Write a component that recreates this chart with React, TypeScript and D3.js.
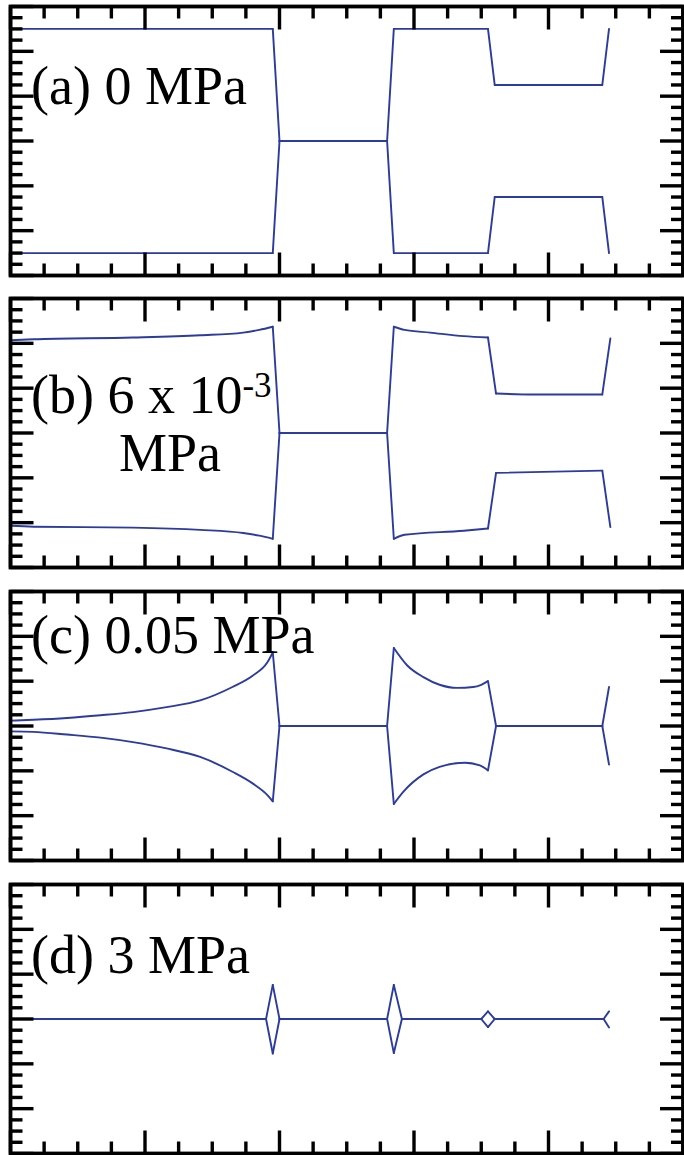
import React from "react";
import * as d3 from "d3";

type Pt = [number, number];

const panelLabels = ["(a) 0 MPa", "(b) 6 x 10", "(c) 0.05 MPa", "(d) 3 MPa"];
const labelB2 = "MPa";
const labelBSup = "-3";

const aUpper: Pt[] = [[0, 5.5], [1.95, 5.5], [2.0, 3], [2.8, 3], [2.85, 5.5], [3.55, 5.5], [3.6, 4.25], [4.4, 4.25], [4.45, 5.5]];
const aLower: Pt[] = [[0, 0.5], [1.95, 0.5], [2.0, 3], [2.8, 3], [2.85, 0.5], [3.55, 0.5], [3.6, 1.75], [4.4, 1.75], [4.45, 0.5]];

const bUpper: Pt[] = [[0, 5.07], [0.17, 5.09], [0.91, 5.13], [1.41, 5.18], [1.73, 5.24], [1.85, 5.3], [1.95, 5.37], [2.0, 3], [2.8, 3], [2.85, 5.37], [2.93, 5.3], [3.12, 5.24], [3.37, 5.16], [3.55, 5.13], [3.61, 3.88], [3.89, 3.86], [4.4, 3.86], [4.46, 5.11]];
const bLower: Pt[] = [[0, 0.93], [0.17, 0.91], [0.91, 0.89], [1.41, 0.84], [1.73, 0.77], [1.85, 0.71], [1.95, 0.64], [2.0, 3], [2.8, 3], [2.85, 0.64], [2.93, 0.73], [3.37, 0.82], [3.55, 0.87], [3.61, 2.11], [4.4, 2.16], [4.46, 0.9]];

const cUpper: Pt[] = [[0, 3.12], [0.17, 3.14], [0.42, 3.18], [0.67, 3.24], [0.91, 3.31], [1.16, 3.42], [1.41, 3.57], [1.65, 3.87], [1.8, 4.12], [1.91, 4.42], [1.95, 4.64], [2.0, 3], [2.8, 3], [2.85, 4.74], [2.95, 4.35], [3.07, 4.09], [3.19, 3.92], [3.32, 3.85], [3.44, 3.87], [3.5, 3.92], [3.55, 4.0], [3.61, 3], [4.4, 3], [4.45, 3.87]];
const cLower: Pt[] = [[0, 2.88], [0.17, 2.87], [0.42, 2.81], [0.67, 2.74], [0.91, 2.64], [1.16, 2.5], [1.41, 2.31], [1.65, 1.98], [1.8, 1.72], [1.91, 1.46], [1.95, 1.32], [2.0, 3], [2.8, 3], [2.85, 1.26], [2.92, 1.53], [3.07, 1.92], [3.19, 2.09], [3.38, 2.18], [3.49, 2.12], [3.55, 2.01], [3.61, 3], [4.4, 3], [4.45, 2.14]];

const dUpper: Pt[] = [[0, 3], [1.9, 3], [1.95, 3.76], [2.0, 3], [2.8, 3], [2.85, 3.76], [2.91, 3], [3.5, 3], [3.55, 3.17], [3.6, 3], [4.41, 3], [4.45, 3.17]];
const dLower: Pt[] = [[0, 3], [1.9, 3], [1.95, 2.23], [2.0, 3], [2.8, 3], [2.85, 2.24], [2.91, 3], [3.5, 3], [3.55, 2.82], [3.6, 3], [4.41, 3], [4.45, 2.81]];

const series: Pt[][][] = [[aUpper, aLower], [bUpper, bLower], [cUpper, cLower], [dUpper, dLower]];

const xDomain: [number, number] = [0, 5];
const yDomain: [number, number] = [0, 6];

const W = 684;
const H = 1155;
const X0 = 10.5;
const X1 = 683;
const PH = 269;
const tops = [6.5, 298.5, 591.5, 884.5];
const BLUE = "#2b3b9e";
const FONT = "'Liberation Serif', 'Times New Roman', serif";

// split a pixel polyline into pieces at sharp corners
function splitPieces(p: [number, number][]): [number, number][][] {
  const pieces: [number, number][][] = [];
  let cur: [number, number][] = [p[0]];
  for (let i = 1; i < p.length; i++) {
    cur.push(p[i]);
    if (i < p.length - 1) {
      const a1 = Math.atan2(p[i][1] - p[i - 1][1], p[i][0] - p[i - 1][0]);
      const a2 = Math.atan2(p[i + 1][1] - p[i][1], p[i + 1][0] - p[i][0]);
      let d = Math.abs(a2 - a1);
      if (d > Math.PI) d = 2 * Math.PI - d;
      if (d > (40 * Math.PI) / 180) {
        pieces.push(cur);
        cur = [p[i]];
      }
    }
  }
  pieces.push(cur);
  return pieces;
}

function Panel({ idx }: { idx: number }) {
  const top = tops[idx];
  const x = d3.scaleLinear().domain(xDomain).range([X0, X1]);
  const y = d3.scaleLinear().domain(yDomain).range([top + PH, top]);
  const smooth = d3.line<[number, number]>().curve(d3.curveMonotoneX);
  const xt = d3.range(0, 5.0001, 0.25);
  const yt = d3.range(0, 6.0001, 0.25);
  const isMajor = (v: number) => Math.abs(v - Math.round(v)) < 1e-6;
  const maj = 23;
  const min = 12;
  const ticks: JSX.Element[] = [];
  xt.forEach((v, i) => {
    const L = isMajor(v) ? maj : min;
    const px = x(v);
    ticks.push(<line key={"xt" + i} x1={px} x2={px} y1={top} y2={top + L} />);
    ticks.push(<line key={"xb" + i} x1={px} x2={px} y1={top + PH} y2={top + PH - L} />);
  });
  yt.forEach((v, i) => {
    const L = isMajor(v) ? maj : min;
    const py = y(v);
    ticks.push(<line key={"yl" + i} x1={X0} x2={X0 + L} y1={py} y2={py} />);
    ticks.push(<line key={"yr" + i} x1={X1} x2={X1 - L} y1={py} y2={py} />);
  });
  const paths: JSX.Element[] = [];
  series[idx].forEach((s, i) => {
    const px = s.map((d) => [x(d[0]), y(d[1])] as [number, number]);
    splitPieces(px).forEach((piece, j) => {
      paths.push(
        <path key={i + "-" + j} d={smooth(piece) || ""} fill="none" stroke={BLUE} strokeWidth={1.9} strokeLinecap="round" strokeLinejoin="round" />
      );
    });
  });
  return (
    <g>
      {paths}
      <g stroke="#000" strokeWidth={3.4}>{ticks}</g>
      <rect x={X0} y={top} width={X1 - X0} height={PH} fill="none" stroke="#000" strokeWidth={3.8} />
    </g>
  );
}

export default function App() {
  const fs = 54;
  return (
    <svg width={W} height={H} style={{ display: "block", position: "absolute", left: 0, top: 0 }}>
      <rect x={0} y={0} width={W} height={H} fill="#fff" />
      {[0, 1, 2, 3].map((i) => (
        <Panel key={i} idx={i} />
      ))}
      <g fontFamily={FONT} fontSize={fs} fill="#000">
        <text x={31} y={104}>{panelLabels[0]}</text>
        <text x={31} y={413}>
          {panelLabels[1]}
          <tspan fontSize={35} dy={-16}>{labelBSup}</tspan>
        </text>
        <text x={119} y={471}>{labelB2}</text>
        <text x={31} y={653}>{panelLabels[2]}</text>
        <text x={31} y={973}>{panelLabels[3]}</text>
      </g>
    </svg>
  );
}
